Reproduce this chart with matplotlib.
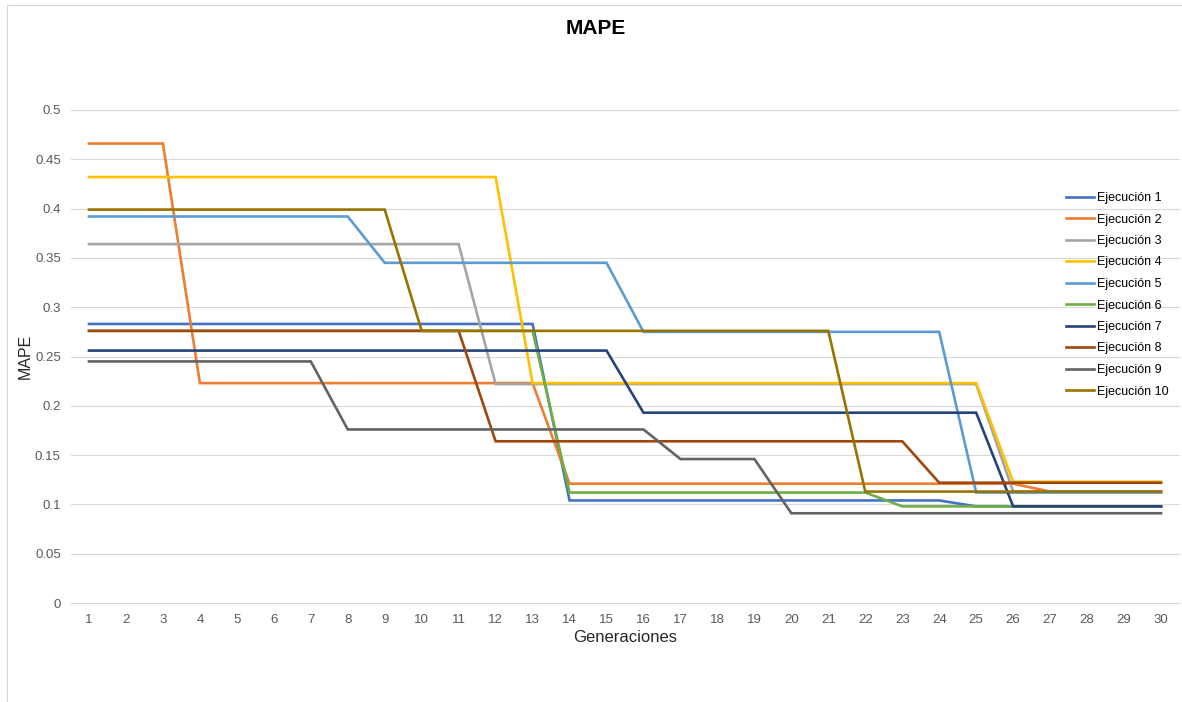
import matplotlib.pyplot as plt
import numpy as np

plt.rcParams['font.family'] = ['Liberation Sans', 'DejaVu Sans']

generaciones = np.arange(1, 31)

# MAPE por generación para cada ejecución
ejec_1 = [0.283] * 13 + [0.104] * 11 + [0.098] * 6
ejec_2 = [0.466] * 3 + [0.223] * 10 + [0.121] * 13 + [0.113] * 4
ejec_3 = [0.364] * 11 + [0.222] * 14 + [0.113] * 5
ejec_4 = [0.432] * 12 + [0.223] * 13 + [0.123] * 5
ejec_5 = [0.392] * 8 + [0.345] * 7 + [0.275] * 9 + [0.112] * 6
ejec_6 = [0.276] * 13 + [0.112] * 9 + [0.098] * 8
ejec_7 = [0.256] * 15 + [0.193] * 10 + [0.098] * 5
ejec_8 = [0.276] * 11 + [0.164] * 12 + [0.122] * 7
ejec_9 = [0.245] * 7 + [0.176] * 9 + [0.146] * 3 + [0.091] * 11
ejec_10 = [0.399] * 9 + [0.276] * 12 + [0.113] * 9

series = [ejec_1, ejec_2, ejec_3, ejec_4, ejec_5,
          ejec_6, ejec_7, ejec_8, ejec_9, ejec_10]
nombres = ['Ejecución %d' % (i + 1) for i in range(10)]
colores = ['#4472C4', '#ED7D31', '#A5A5A5', '#FFC000', '#5B9BD5',
           '#70AD47', '#264478', '#9E480E', '#636363', '#997300']

W, H = 1182, 702
fig = plt.figure(figsize=(W / 100, H / 100), dpi=100)
ax = fig.add_axes([70.5 / W, 1 - 603 / H, 1109 / W, 493 / H])

for datos, nombre, color in zip(series, nombres, colores):
    ax.plot(generaciones, datos, color=color, lw=1.9, label=nombre,
            solid_joinstyle='miter')

ax.set_xlim(0.5, 30.5)
ax.set_ylim(0, 0.5)
ax.set_xticks(generaciones)
ax.set_xticklabels([str(g) for g in generaciones])
ax.set_yticks(np.arange(0, 0.501, 0.05))
ax.set_yticklabels(['0', '0.05', '0.1', '0.15', '0.2', '0.25', '0.3',
                    '0.35', '0.4', '0.45', '0.5'])
ax.tick_params(length=0, labelsize=9.5, colors='#595959', pad=8)
ax.tick_params(axis='y', pad=7)
ax.grid(axis='y', color='#D9D9D9', lw=0.8)
ax.set_axisbelow(True)
for s in ['top', 'right', 'left']:
    ax.spines[s].set_visible(False)
ax.spines['bottom'].set_color('#D9D9D9')
ax.spines['bottom'].set_linewidth(0.8)

ax.set_xlabel('Generaciones', fontsize=12, color='#262626', labelpad=3)
ax.set_ylabel('MAPE', fontsize=11.5, color='#262626', labelpad=1.5)
fig.text(596 / W, 1 - 29 / H, 'MAPE', ha='center', va='center',
         fontsize=15, fontweight='bold', color='black')

ax.legend(loc='upper left', bbox_to_anchor=(1066 / W, 1 - 192 / H),
          bbox_transform=fig.transFigure, frameon=False, fontsize=9,
          handlelength=2.2, handletextpad=0.25, labelspacing=0.76,
          borderaxespad=0, borderpad=0)

# borde del área del gráfico
fig.add_artist(plt.Line2D([7 / W, 7 / W], [0, 1 - 5 / H],
                          color='#D9D9D9', lw=0.8, transform=fig.transFigure))
fig.add_artist(plt.Line2D([7 / W, 1], [1 - 5 / H, 1 - 5 / H],
                          color='#D9D9D9', lw=0.8, transform=fig.transFigure))

fig.savefig('out.png', dpi=100, facecolor='white')
